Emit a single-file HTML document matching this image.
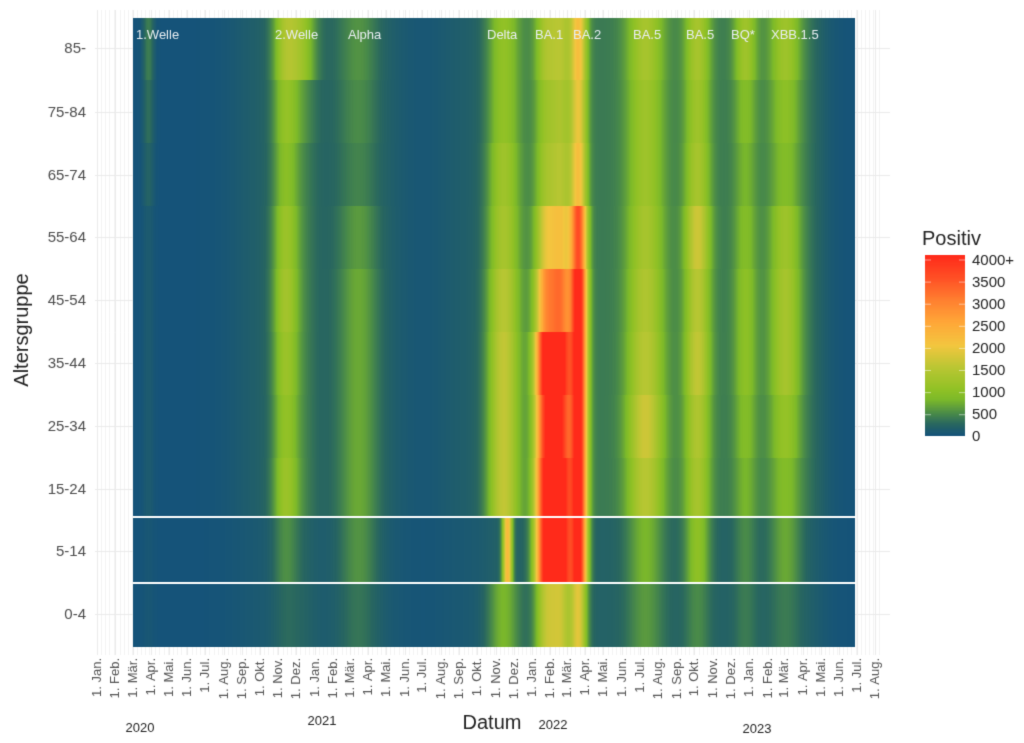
<!DOCTYPE html>
<html><head><meta charset="utf-8"><style>
body{margin:0;background:#fff;width:1024px;height:743px;overflow:hidden;font-family:"Liberation Sans",sans-serif}
#c{position:absolute;left:0;top:0}
</style></head><body>
<canvas id="c" width="1024" height="743"></canvas>
<script>
const c=document.getElementById('c'),g=c.getContext('2d');
g.fillStyle='#fff';g.fillRect(0,0,1024,743);
const X0=97,PD=0.595;
function dx(y,m){const d=(Date.UTC(y,m,1)-Date.UTC(2020,0,1))/864e5;return X0+d*PD;}
g.strokeStyle='#ebebeb';g.lineWidth=1;
for(let y=2020,m=0;;){const x=dx(y,m);if(x>880)break;
 g.beginPath();g.moveTo(Math.round(x)+.5,10);g.lineTo(Math.round(x)+.5,655);g.stroke();
 for(let k=1;k<5;k++){const xx=x+k*7*PD; if(xx<880){g.strokeStyle='#f4f4f4';g.beginPath();g.moveTo(Math.round(xx)+.5,10);g.lineTo(Math.round(xx)+.5,655);g.stroke();g.strokeStyle='#ebebeb';}}
 m++;if(m>11){m=0;y++;}}
const rowsY=[48,112,175,237,300,363,426,489,551,614];
const labels=['85-','75-84','65-74','55-64','45-54','35-44','25-34','15-24','5-14','0-4'];
rowsY.forEach(y=>{g.beginPath();g.moveTo(95,y+.5);g.lineTo(890,y+.5);g.stroke();});
const stops=[[0,'#155379'],[250,'#286660'],[500,'#4b8c48'],[800,'#7cb92a'],[1000,'#8fc125'],[1500,'#b9c633'],[2000,'#f3c63f'],[2500,'#ffa838'],[3000,'#ff8030'],[3500,'#ff5025'],[4000,'#ff2a1a']];
function hex(h){return [1,3,5].map(i=>parseInt(h.substr(i,2),16));}
const S=stops.map(s=>[s[0],hex(s[1])]);
function col(v){v=Math.max(0,Math.min(4000,v));for(let i=1;i<S.length;i++){if(v<=S[i][0]){const t=(v-S[i-1][0])/(S[i][0]-S[i-1][0]);const a=S[i-1][1],b=S[i][1];return 'rgb('+a.map((q,j)=>Math.round(q+(b[j]-q)*t)).join(',')+')';}}return 'rgb(255,42,26)';}
const W=[[148,4],[285,9],[358,14],[503,11],[546,8],[578,6],[645,13],[697,9],[745,8],[785,11],[302,10],[561,7]];
const A=[
[400,1000,350,650,900,1700,900,900,800,800,800,900],
[300,800,300,650,700,1500,800,800,500,600,300,800],
[200,700,250,800,800,1700,800,900,400,500,200,900],
[100,900,400,900,1400,3100,900,1300,500,800,200,1400],
[100,1000,500,1100,2300,3900,1000,1100,600,900,200,2300],
[100,900,500,1200,3900,3900,1100,1200,600,900,200,3400],
[100,800,500,1200,3400,3900,1300,1000,500,700,200,3000],
[100,900,500,1200,3700,3900,1100,900,400,500,200,3600],
[50,400,450,2000,3900,3900,600,800,300,500,100,3900],
[50,150,250,600,1300,1600,400,300,200,200,100,1200]];
const bounds=[18,80,143,206,269,332,395,458,517,583,647];
function bump(x,a,b,s){return 1/(1+Math.exp(-(x-a)/s))*1/(1+Math.exp((x-b)/s));}
for(let r=0;r<10;r++){
 const f=r>=8?0.5:1;
 for(let x=133;x<855;x++){
  let v=0;
  for(let k=0;k<W.length;k++){let dd=(x-W[k][0])/W[k][1];
   if(k==3 && r==8) dd=(x-507)/3.5;
   v+=A[r][k]*Math.exp(-dd*dd/2);}
  v+=f*200*bump(x,240,400,12);
  v+=f*150*bump(x,440,500,10);
  v+=f*380*bump(x,490,820,8);
  g.fillStyle=col(v);g.fillRect(x,bounds[r],1,bounds[r+1]-bounds[r]);
 }
}
g.fillStyle='#fff';g.fillRect(133,516,722,2);g.fillRect(133,582,722,2);
g.fillStyle='#e8eef2';g.font='13px "Liberation Sans"';
[['1.Welle',136],['2.Welle',275],['Alpha',348],['Delta',487],['BA.1',535],['BA.2',573],['BA.5',633],['BA.5',686],['BQ*',731],['XBB.1.5',771]].forEach(t=>g.fillText(t[0],t[1],39));
g.fillStyle='#4d4d4d';g.font='15px "Liberation Sans"';g.textAlign='right';
labels.forEach((l,i)=>g.fillText(l,86,rowsY[i]+5));
const mn=['Jan.','Feb.','Mär.','Apr.','Mai.','Jun.','Jul.','Aug.','Sep.','Okt.','Nov.','Dez.'];
g.font='13px "Liberation Sans"';g.fillStyle='#555';
for(let y=2020,m=0;;){const x=dx(y,m);if(x>880)break;
 g.save();g.translate(x+4,658);g.rotate(-Math.PI/2);g.textAlign='right';g.fillText('1. '+mn[m],0,0);g.restore();
 m++;if(m>11){m=0;y++;}}
g.fillStyle='#222';g.textAlign='center';g.font='13px "Liberation Sans"';
g.fillText('2020',140,732);g.fillText('2021',322,725);g.fillText('2022',553,729);g.fillText('2023',757,733);
g.font='20px "Liberation Sans"';g.fillText('Datum',492,729);
g.save();g.translate(28,330);g.rotate(-Math.PI/2);g.fillText('Altersgruppe',0,0);g.restore();
g.textAlign='left';g.fillText('Positiv',922,245);
for(let y=255;y<436;y++){g.fillStyle=col((435-y)/180*4000);g.fillRect(925,y,40,1);}
g.fillStyle='#222';g.font='15px "Liberation Sans"';
['4000+','3500','3000','2500','2000','1500','1000','500','0'].forEach((t,i)=>{const y=259.5+i*22.1;g.fillText(t,972,y+5);
 g.fillStyle='rgba(255,255,255,.5)';g.fillRect(925,y,6,1);g.fillRect(959,y,6,1);g.fillStyle='#222';});
</script>
</body></html>
